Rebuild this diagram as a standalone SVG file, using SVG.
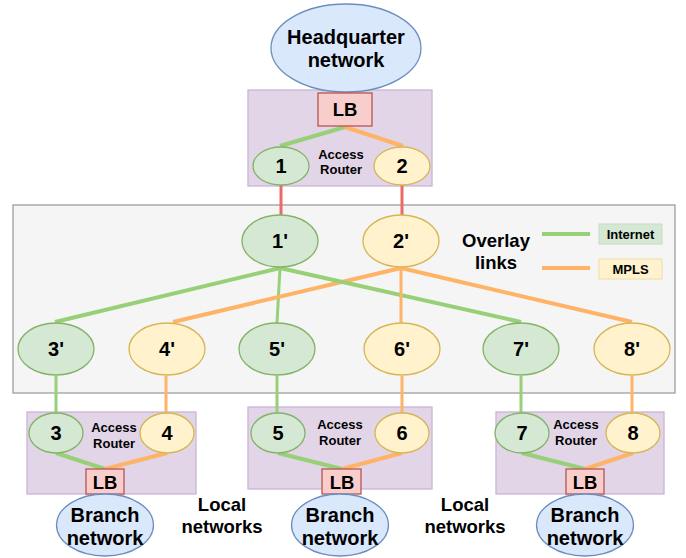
<svg xmlns="http://www.w3.org/2000/svg" width="686" height="558" viewBox="0 0 686 558">
<style>
text{font-family:"Liberation Sans",Arial,sans-serif;font-weight:bold;fill:#000;text-anchor:middle}
.blue{fill:#dae8fc;stroke:#6c8ebf;stroke-width:1.3}
.grn{fill:#d5e8d4;stroke:#82b366;stroke-width:1.3}
.yel{fill:#fff2cc;stroke:#d6b656;stroke-width:1.3}
.lb{fill:#f8cecc;stroke:#b85450;stroke-width:1.3}
.pur{fill:#e1d5e7;stroke:#c9b5d6;stroke-width:1.3}
.gl{stroke:#97d077;fill:none}
.ol{stroke:#ffb366;fill:none}
.rl{stroke:#ea6b66;fill:none;stroke-width:3}
.big{font-size:20px}
.med{font-size:18.5px}
.sm{font-size:13px}
</style>
<!-- backgrounds -->
<rect id="overlay-area" x="13" y="205" width="662" height="188" fill="#f5f5f5" stroke="#9e9e9e" stroke-width="1.3"/>
<rect id="hq-box" class="pur" x="248" y="90" width="184" height="96"/>
<rect id="b1-box" class="pur" x="27" y="412" width="169" height="82"/>
<rect id="b2-box" class="pur" x="248" y="407" width="184" height="82"/>
<rect id="b3-box" class="pur" x="496" y="412" width="168" height="82"/>

<g id="connectors" stroke-linecap="butt">
  <line class="gl" stroke-width="4" x1="345" y1="127" x2="280" y2="146"/>
  <line class="ol" stroke-width="4" x1="345" y1="127" x2="403" y2="146"/>
  <line class="rl" x1="281" y1="185" x2="281" y2="215"/>
  <line class="rl" x1="402" y1="185" x2="402" y2="215"/>
  <line class="gl" stroke-width="4" x1="280" y1="268" x2="55" y2="322"/>
  <line class="gl" stroke-width="3" x1="280" y1="268" x2="277" y2="323"/>
  <line class="ol" stroke-width="4" x1="401" y1="268" x2="173" y2="322"/>
  <line class="gl" stroke-width="4" x1="280" y1="268" x2="521" y2="322"/>
  <line class="ol" stroke-width="3" x1="401" y1="268" x2="401" y2="323"/>
  <line class="ol" stroke-width="4" x1="401" y1="268" x2="632" y2="322"/>
  <line class="gl" stroke-width="3" x1="56" y1="376" x2="56" y2="413"/>
  <line class="ol" stroke-width="3" x1="166" y1="376" x2="166" y2="413"/>
  <line class="gl" stroke-width="3" x1="277" y1="376" x2="277" y2="413"/>
  <line class="ol" stroke-width="3" x1="402" y1="376" x2="402" y2="413"/>
  <line class="gl" stroke-width="3" x1="521" y1="376" x2="521" y2="413"/>
  <line class="ol" stroke-width="3" x1="632" y1="376" x2="632" y2="413"/>
  <line class="gl" stroke-width="4" x1="56" y1="453" x2="105" y2="469"/>
  <line class="ol" stroke-width="4" x1="167" y1="453" x2="105" y2="469"/>
  <line class="gl" stroke-width="4" x1="278" y1="453" x2="342" y2="469"/>
  <line class="ol" stroke-width="4" x1="402" y1="453" x2="342" y2="469"/>
  <line class="gl" stroke-width="4" x1="522" y1="453" x2="585" y2="469"/>
  <line class="ol" stroke-width="4" x1="633" y1="453" x2="585" y2="469"/>
  <line class="gl" stroke-width="4" x1="542" y1="234" x2="590" y2="234"/>
  <line class="ol" stroke-width="4" x1="542" y1="268" x2="590" y2="268"/>
</g>

<g id="hq">
  <ellipse class="blue" cx="346" cy="48" rx="75" ry="44"/>
  <text class="big" x="346" y="44">Headquarter</text>
  <text class="big" x="346" y="67">network</text>
</g>
<g id="lb-hq"><rect class="lb" x="318" y="93" width="54" height="33"/><text class="med" x="345" y="116">LB</text></g>
<g id="n1"><ellipse class="grn" cx="281" cy="166" rx="28" ry="19"/><text class="big" x="281" y="173">1</text></g>
<g id="n2"><ellipse class="yel" cx="402" cy="166" rx="28" ry="19"/><text class="big" x="402" y="173">2</text></g>
<g id="ar-hq"><text class="sm" x="341" y="159">Access</text><text class="sm" x="341" y="174">Router</text></g>

<g id="n1p"><ellipse class="grn" cx="280" cy="241" rx="38" ry="26"/><text class="big" x="280" y="248">1'</text></g>
<g id="n2p"><ellipse class="yel" cx="401" cy="241" rx="38" ry="26"/><text class="big" x="401" y="248">2'</text></g>
<g id="n3p"><ellipse class="grn" cx="56" cy="349" rx="38" ry="26"/><text class="big" x="56" y="356">3'</text></g>
<g id="n4p"><ellipse class="yel" cx="167" cy="349" rx="38" ry="26"/><text class="big" x="167" y="356">4'</text></g>
<g id="n5p"><ellipse class="grn" cx="277" cy="349" rx="38" ry="26"/><text class="big" x="277" y="356">5'</text></g>
<g id="n6p"><ellipse class="yel" cx="402" cy="349" rx="38" ry="26"/><text class="big" x="402" y="356">6'</text></g>
<g id="n7p"><ellipse class="grn" cx="521" cy="349" rx="38" ry="26"/><text class="big" x="521" y="356">7'</text></g>
<g id="n8p"><ellipse class="yel" cx="632" cy="349" rx="38" ry="26"/><text class="big" x="632" y="356">8'</text></g>

<g id="legend">
  <text class="med" x="496" y="247">Overlay</text>
  <text class="med" x="496" y="269">links</text>
  <rect x="599" y="224" width="63" height="20" fill="#d5e8d4" stroke="#c5dcc3" stroke-width="1"/>
  <text class="sm" x="630.5" y="239">Internet</text>
  <rect x="599" y="259" width="63" height="20" fill="#fff2cc" stroke="#eeddaa" stroke-width="1"/>
  <text class="sm" x="630.5" y="274">MPLS</text>
</g>

<g id="n3"><ellipse class="grn" cx="56" cy="433" rx="27" ry="20"/><text class="big" x="56" y="440">3</text></g>
<g id="n4"><ellipse class="yel" cx="167" cy="433" rx="27" ry="20"/><text class="big" x="167" y="440">4</text></g>
<g id="ar-b1"><text class="sm" x="114" y="432">Access</text><text class="sm" x="114" y="448">Router</text></g>
<g id="lb-b1"><rect class="lb" x="86" y="469" width="38" height="25"/><text class="med" x="105" y="489">LB</text></g>
<g id="br1"><ellipse class="blue" cx="105" cy="525" rx="48.5" ry="31"/><text class="big" x="105" y="522">Branch</text><text class="big" x="105" y="545">network</text></g>

<g id="n5"><ellipse class="grn" cx="278" cy="433" rx="27" ry="20"/><text class="big" x="278" y="440">5</text></g>
<g id="n6"><ellipse class="yel" cx="402" cy="433" rx="27" ry="20"/><text class="big" x="402" y="440">6</text></g>
<g id="ar-b2"><text class="sm" x="340" y="429">Access</text><text class="sm" x="340" y="445">Router</text></g>
<g id="lb-b2"><rect class="lb" x="322" y="469" width="39" height="25"/><text class="med" x="342" y="489">LB</text></g>
<g id="br2"><ellipse class="blue" cx="340" cy="525" rx="48.5" ry="31"/><text class="big" x="340" y="522">Branch</text><text class="big" x="340" y="545">network</text></g>

<g id="n7"><ellipse class="grn" cx="522" cy="433" rx="27" ry="20"/><text class="big" x="522" y="440">7</text></g>
<g id="n8"><ellipse class="yel" cx="633" cy="433" rx="27" ry="20"/><text class="big" x="633" y="440">8</text></g>
<g id="ar-b3"><text class="sm" x="576" y="429">Access</text><text class="sm" x="576" y="445">Router</text></g>
<g id="lb-b3"><rect class="lb" x="566" y="469" width="38" height="25"/><text class="med" x="585" y="489">LB</text></g>
<g id="br3"><ellipse class="blue" cx="585" cy="525" rx="48.5" ry="31"/><text class="big" x="585" y="522">Branch</text><text class="big" x="585" y="545">network</text></g>

<g id="local1"><text class="med" x="222" y="511">Local</text><text class="med" x="222" y="533">networks</text></g>
<g id="local2"><text class="med" x="465" y="511">Local</text><text class="med" x="465" y="533">networks</text></g>
</svg>
